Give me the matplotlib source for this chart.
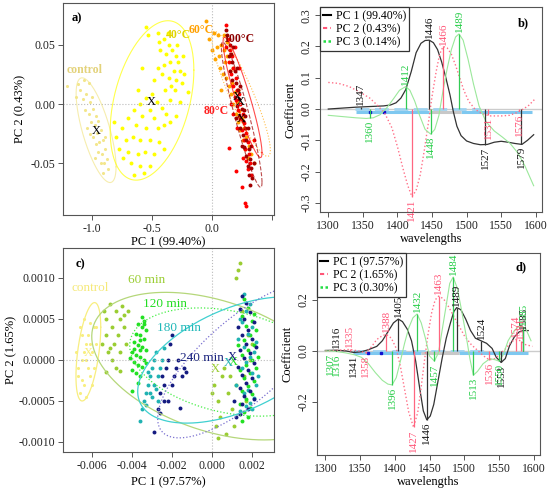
import numpy as np
import matplotlib.pyplot as plt
from matplotlib.lines import Line2D

plt.rcParams['font.family'] = ['Liberation Serif', 'DejaVu Serif']
plt.rcParams['axes.unicode_minus'] = False
plt.rcParams['font.size'] = 8

# ---------------- panel a: PCA scores, temperature ----------------
a_control = [(-1.21,0.015),(-1.12,0.017),(-1.10,0.012),(-1.07,0.020),(-1.03,0.018),(-1.05,0.008),
             (-1.08,0.004),(-1.02,0.002),(-1.00,0.006),(-1.06,-0.005),(-1.03,-0.008),(-0.99,-0.004),
             (-0.97,-0.010),(-1.01,-0.015),(-0.98,-0.018),(-0.95,-0.014),(-1.02,-0.025),(-0.99,-0.028),
             (-0.96,-0.024),(-0.93,-0.022),(-0.97,-0.034),(-0.94,-0.032),(-0.91,-0.030),(-0.95,-0.040),
             (-0.92,-0.042),(-0.89,-0.038),(-0.93,-0.050),(-0.90,-0.050),(-0.88,-0.046),(-0.91,-0.058),
             (-0.87,-0.055),(-0.98,-0.045),(-1.04,-0.020),(-0.89,-0.028),(-1.14,0.006)]
a_40 = [(-0.55,0.065),(-0.53,0.058),(-0.45,0.060),(-0.40,0.055),(-0.36,0.050),(-0.43,0.045),
        (-0.38,0.042),(-0.33,0.045),(-0.30,0.040),(-0.35,0.035),(-0.40,0.033),(-0.28,0.035),
        (-0.32,0.028),(-0.27,0.028),(-0.23,0.025),(-0.36,0.022),(-0.42,0.025),(-0.30,0.020),
        (-0.25,0.018),(-0.34,0.015),(-0.39,0.012),(-0.45,0.030),(-0.48,0.020),(-0.29,0.050),
        (-0.37,0.060),(-0.24,0.040),(-0.31,0.012),(-0.44,0.052),(-0.50,0.008),(-0.55,0.005),
        (-0.46,0.002),(-0.60,0.000),(-0.52,-0.005),(-0.42,-0.003),(-0.38,-0.008),(-0.48,-0.012),
        (-0.58,-0.010),(-0.65,-0.005),(-0.70,-0.012),(-0.63,-0.018),(-0.55,-0.020),(-0.45,-0.020),
        (-0.40,-0.018),(-0.35,-0.015),(-0.30,-0.010),(-0.75,-0.020),(-0.72,-0.030),(-0.66,-0.028),
        (-0.60,-0.030),(-0.52,-0.030),(-0.44,-0.032),(-0.78,-0.038),(-0.70,-0.040),(-0.62,-0.042),
        (-0.56,-0.040),(-0.48,-0.042),(-0.40,-0.038),(-0.68,-0.050),(-0.60,-0.052),(-0.52,-0.052),
        (-0.65,-0.060),(-0.57,-0.058),(-0.74,-0.045),(-0.80,-0.028),(-0.82,-0.015),(-0.20,0.010),
        (-0.35,0.003),(-0.58,0.030),(-0.62,0.012),(-0.27,0.002)]
a_60 = [(-0.05,0.070),(-0.02,0.055),(0.02,0.060),(0.05,0.058),(0.00,0.045),(0.04,0.048),
        (0.08,0.050),(0.03,0.038),(0.06,0.040),(0.10,0.045),(0.07,0.030),(0.11,0.035),
        (0.13,0.040),(0.09,0.025),(0.12,0.022),(0.15,0.028),(0.14,0.015),(0.17,0.018),
        (0.16,0.008),(0.19,0.010),(0.18,0.000),(0.21,0.002),(0.20,-0.008),(0.23,-0.006),
        (0.22,-0.015),(0.25,-0.012),(0.24,-0.022),(0.27,-0.020),(0.26,-0.030),(0.29,-0.028),
        (0.28,-0.038),(0.31,-0.035),(0.30,-0.045),(0.33,-0.042),(0.13,0.052),(0.10,0.058),
        (0.18,0.030),(0.22,0.012),(0.35,-0.050),(0.08,0.012)]
a_80 = [(0.12,0.066),(0.14,0.055),(0.12,0.048),(0.15,0.045),(0.17,0.040),(0.14,0.035),
        (0.18,0.030),(0.16,0.025),(0.20,0.022),(0.18,0.015),(0.21,0.012),(0.23,0.008),
        (0.20,0.003),(0.24,0.000),(0.22,-0.005),(0.26,-0.008),(0.24,-0.013),(0.27,-0.016),
        (0.25,-0.022),(0.29,-0.024),(0.27,-0.030),(0.30,-0.032),(0.28,-0.038),(0.31,-0.042),
        (0.29,-0.048),(0.32,-0.050),(0.30,-0.055),(0.26,-0.045),(0.21,-0.020),(0.18,-0.008),
        (0.14,-0.037),(0.20,-0.056),(0.25,-0.070),(0.28,-0.083),(0.29,-0.086),(0.33,-0.060),
        (0.19,0.048),(0.35,-0.030),(0.16,0.000),(0.23,0.030)]
a_100 = [(0.13,0.058),(0.15,0.050),(0.16,0.042),(0.14,0.040),(0.17,0.035),(0.19,0.028),
         (0.17,0.020),(0.20,0.018),(0.22,0.012),(0.19,0.006),(0.23,0.004),(0.21,-0.002),
         (0.25,-0.004),(0.23,-0.010),(0.26,-0.014),(0.24,-0.020),(0.28,-0.020),(0.26,-0.026),
         (0.29,-0.030),(0.27,-0.036),(0.31,-0.038),(0.29,-0.044),(0.32,-0.046),(0.30,-0.052),
         (0.33,-0.054),(0.31,-0.060),(0.34,-0.062),(0.32,-0.068),(0.35,-0.050),(0.18,0.048),
         (0.21,0.030),(0.24,0.015),(0.27,-0.005),(0.30,-0.020),(0.33,-0.035),(0.15,0.028),
         (0.20,-0.012),(0.25,-0.035),(0.12,0.062),(0.28,-0.010)]
a_colors = ['#f3e68c', '#ffff00', '#ffa500', '#ff0000', '#a00000']
a_names = ['control', '40\u00b0C', '60\u00b0C', '80\u00b0C', '100\u00b0C']
# ellipse: centre x, centre y, half range x, half range y, correlation
a_ellipses = [(-0.968,-0.022,0.167,0.044,-0.70), (-0.50,0.003,0.35,0.067,0.38),
              (0.245,0.0085,0.245,0.0525,-0.90), (0.257,0.0055,0.163,0.0505,-0.92),
              (0.25,-0.009,0.17,0.061,-0.93)]
a_centres = [(-0.97,-0.023), (-0.51,0.002), (0.21,0.006), (0.25,-0.013), (0.24,0.002)]

# ---------------- panel c: PCA scores, time ----------------
c_control = [(-0.0066,0.0004),(-0.0064,0.0005),(-0.0061,0.00045),(-0.0059,0.0004),(-0.0063,0.0002),
             (-0.0060,0.0001),(-0.0065,0.0000),(-0.0062,-0.0001),(-0.0058,0.0002),(-0.0067,-0.0002),
             (-0.0064,-0.0003),(-0.0061,-0.0002),(-0.0066,-0.0004),(-0.0063,-0.00045),(-0.0060,-0.0003),
             (-0.0065,0.0003),(-0.0062,0.0003),(-0.0068,0.0001),(-0.0059,-0.0001),(-0.0063,0.0000),
             (-0.0061,0.0002),(-0.0067,-0.0001),(-0.0064,0.0001),(-0.0058,0.0004),(-0.0065,-0.00025)]
c_60 = [(-0.0054,0.0006),(-0.0051,0.00068),(-0.0048,0.0006),(-0.0045,0.00066),(-0.0046,0.0005),
        (-0.0050,0.0004),(-0.0053,0.0003),(-0.0047,0.0003),(-0.0044,0.0004),(-0.0049,0.0002),
        (-0.0052,0.0001),(-0.0046,0.0001),(-0.0043,0.0002),(-0.0050,0.0000),(-0.0048,-0.0001),
        (-0.0055,0.0002),(-0.0046,-0.00013),(-0.0042,0.0006),(-0.0053,-0.00015),(-0.0053,0.0005),
        (-0.0051,0.00015),(-0.0044,0.00055),(0.0001,-0.0003),(0.0003,-0.0005),(0.0005,-0.0002),
        (0.0008,-0.0004),(0.0004,-0.0007),(0.0010,-0.0006),(0.0002,-0.0008),(0.0007,-0.0009),
        (0.0012,-0.0003),(0.0006,-0.0001),(0.0000,-0.0004),(0.0011,-0.0008),(0.0013,0.0011),
        (0.0014,0.00118),(0.0012,0.0010),(0.0015,0.0006),(0.0018,0.0003),(0.0016,-0.0002),
        (0.0019,0.0000),(0.0017,-0.0005),(0.0020,0.0002),(0.0009,-0.0002),(0.0003,-0.00095)]
c_120 = [(-0.0035,0.00052),(-0.0034,0.00048),(-0.0037,0.00044),(-0.0035,0.00040),(-0.0033,0.00036),
         (-0.0038,0.00032),(-0.0036,0.00030),(-0.0034,0.00026),(-0.0039,0.00022),(-0.0037,0.00018),
         (-0.0035,0.00016),(-0.0033,0.00012),(-0.0040,0.00010),(-0.0038,0.00006),(-0.0036,0.00004),
         (-0.0034,0.00000),(-0.0039,-0.00002),(-0.0037,-0.00006),(-0.0035,-0.00008),(-0.0040,-0.00012),
         (-0.0038,-0.00016),(-0.0036,-0.00020),(-0.0041,0.00002),(-0.0039,0.00014),(-0.0036,0.00012),
         (-0.0033,-0.00004),(-0.0040,-0.00038),(-0.0037,-0.00028),(-0.0034,0.00044),(-0.0036,0.00024),
         (0.0016,0.00074),(0.0018,0.00064),(0.0015,0.00054),(0.0020,0.00048),(0.0017,0.00042),
         (0.0022,0.00036),(0.0019,0.00030),(0.0016,0.00024),(0.0021,0.00018),(0.0018,0.00012),
         (0.0015,0.00006),(0.0020,0.00000),(0.0017,-0.00006),(0.0022,-0.00010),(0.0019,-0.00016),
         (0.0016,-0.00022),(0.0021,-0.00026),(0.0018,-0.00032),(0.0015,-0.00038),(0.0020,-0.00042),
         (0.0017,-0.00048),(0.0014,-0.00054),(0.0019,-0.00058),(0.0016,-0.00064),(0.0015,-0.00074),
         (0.0023,0.00004),(0.0013,0.00018),(0.0014,-0.00012),(0.0021,0.00056),(0.0018,-0.00070)]
c_180 = [(-0.0036,-0.00075),(-0.0035,-0.0006),(-0.0034,-0.0005),(-0.0033,-0.0004),(-0.0032,-0.0003),
         (-0.0031,-0.0002),(-0.0030,-0.0001),(-0.0029,0.0000),(-0.0028,0.0001),(-0.0033,-0.00055),
         (-0.0031,-0.0004),(-0.0029,-0.0003),(-0.0027,-0.0002),(-0.0026,-0.0001),(-0.0030,-0.00045),
         (-0.0028,-0.00035),(-0.0025,0.0000),(-0.0024,0.00015),(-0.0032,-0.00015),(-0.0027,-0.0005),
         (0.0016,0.00080),(0.0019,0.00068),(0.0017,0.00060),(0.0015,0.00046),(0.0020,0.00040),
         (0.0018,0.00032),(0.0016,0.00016),(0.0021,0.00010),(0.0019,0.00004),(0.0017,-0.00002),
         (0.0015,-0.00010),(0.0020,-0.00016),(0.0022,-0.00030),(0.0018,-0.00036),(0.0016,-0.00040),
         (0.0021,-0.00046),(0.0019,-0.00052),(0.0017,-0.00056),(0.0014,-0.00062),(0.0022,0.00022),
         (0.0013,0.00026),(0.0020,-0.00060),(0.0023,-0.00020),(0.0014,0.00050),(0.0012,-0.00030)]
c_240 = [(-0.0029,-0.00088),(-0.0027,-0.0006),(-0.0026,-0.0004),(-0.0025,-0.0002),(-0.0024,-0.0003),
         (-0.0023,-0.0001),(-0.0022,0.0000),(-0.0021,0.0002),(-0.0020,0.0003),(-0.0022,-0.0005),
         (-0.0019,-0.0002),(-0.0018,-0.0001),(-0.0016,-0.00058),(-0.0015,-0.0002),(-0.0014,-0.0001),
         (-0.0017,0.0000),(-0.0024,-0.0005),(-0.0026,-0.00065),(-0.0020,-0.0003),(-0.0013,-0.00015),
         (0.0015,0.00078),(0.0017,0.00070),(0.0014,0.00062),(0.0019,0.00058),(0.0016,0.00050),
         (0.0021,0.00046),(0.0013,0.00040),(0.0018,0.00036),(0.0015,0.00030),(0.0020,0.00026),
         (0.0017,0.00020),(0.0022,0.00016),(0.0014,0.00012),(0.0019,0.00008),(0.0016,0.00002),
         (0.0021,-0.00004),(0.0013,-0.00008),(0.0018,-0.00012),(0.0015,-0.00018),(0.0020,-0.00022),
         (0.0017,-0.00028),(0.0014,-0.00034),(0.0019,-0.00038),(0.0016,-0.00044),(0.0021,-0.00048),
         (0.0015,-0.00054),(0.0018,-0.00060),(0.0014,-0.00066),(0.0012,-0.00070),(0.0011,-0.00050)]
c_colors = ['#f8ee80', '#9acd32', '#22e022', '#20b2b2', '#141a80']
c_names = ['control', '60 min', '120 min', '180 min', '240 min']
c_ellipses = [(-0.00617,0.0001,0.00062,0.0006,0.5), (0.00016,-0.000075,0.00616,0.0009,-0.4),
              (0.0009,-0.000025,0.005,0.00066,-0.3), (0.0012,0.0,0.0049,0.00077,0.5),
              (0.0016,0.0,0.0043,0.00095,0.75)]
c_centres = [(-0.00617,0.00008), (0.00016,-0.00011), (0.0011,-0.00002), (0.00083,-0.00004), (0.00105,0.00004)]

# ---------------- panel b: loadings, temperature ----------------
b_pc1_wl = [1300,1320,1340,1360,1380,1390,1398,1405,1412,1420,1427,1434,1440,1446,1452,1458,1464,
            1470,1476,1481,1486,1492,1500,1510,1520,1530,1540,1550,1560,1570,1580,1588,1597]
b_pc1 = [0.000,0.003,0.006,0.008,0.010,0.013,0.020,0.035,0.062,0.120,0.180,0.210,0.219,0.220,0.212,
         0.190,0.150,0.100,0.045,-0.010,-0.055,-0.085,-0.102,-0.110,-0.114,-0.113,-0.106,-0.103,
         -0.106,-0.110,-0.113,-0.100,-0.082]
b_pc2_wl = [1300,1315,1330,1345,1360,1372,1382,1392,1400,1408,1415,1421,1427,1433,1439,1445,1450,
            1456,1461,1466,1472,1478,1484,1490,1496,1503,1512,1522,1535,1550,1562,1572,1582,1590,1598]
b_pc2 = [0.085,0.082,0.072,0.055,0.035,0.010,-0.015,-0.060,-0.120,-0.190,-0.245,-0.280,-0.260,
         -0.210,-0.130,-0.040,0.040,0.120,0.175,0.200,0.195,0.175,0.140,0.100,0.060,0.025,0.000,
         -0.015,-0.022,-0.022,-0.020,-0.012,0.000,0.012,0.030]
b_pc3_wl = [1300,1320,1340,1355,1365,1375,1385,1395,1403,1412,1418,1425,1432,1440,1448,1454,1460,
            1466,1472,1478,1484,1489,1495,1502,1510,1518,1528,1540,1552,1563,1574,1584,1592,1597]
b_pc3 = [-0.020,-0.024,-0.028,-0.030,-0.028,-0.018,0.005,0.035,0.060,0.072,0.060,0.025,-0.020,
         -0.065,-0.080,-0.065,-0.020,0.060,0.130,0.190,0.230,0.240,0.220,0.160,0.080,0.010,-0.040,
         -0.070,-0.090,-0.110,-0.140,-0.180,-0.220,-0.245]
b_peaks = [[1347,1446,1527,1579], [1421,1466,1531,1576], [1360,1412,1448,1489]]
b_legend = ['PC 1 (99.40%)', 'PC 2 (0.43%)', 'PC 3 (0.14%)']
b_sig_solid = [(1340,1446),(1492,1595)]
b_sig_grey = [(1446,1492)]
b_sig_dash = [(1338,1520)]
b_sig_marks = [1360,1381]

# ---------------- panel d: loadings, time ----------------
d_pc1_wl = [1300,1316,1330,1341,1352,1362,1374,1382,1390,1398,1405,1411,1418,1424,1430,1436,1441,
            1446,1451,1456,1462,1468,1474,1480,1485,1489,1495,1502,1509,1516,1524,1532,1540,1546,
            1553,1559,1565,1572,1579,1585,1592]
d_pc1 = [0.002,0.003,0.000,-0.006,-0.003,0.005,0.018,0.040,0.075,0.110,0.125,0.115,0.085,0.040,
         -0.040,-0.150,-0.235,-0.270,-0.255,-0.210,-0.120,-0.030,0.050,0.110,0.155,0.170,0.162,
         0.125,0.080,0.050,0.040,0.030,0.010,-0.025,-0.045,-0.030,0.020,0.055,0.075,0.080,0.080]
d_pc2_wl = [1300,1315,1335,1348,1358,1366,1374,1382,1388,1395,1402,1408,1414,1420,1427,1433,1438,
            1443,1448,1453,1458,1463,1470,1477,1484,1492,1500,1510,1520,1528,1536,1544,1552,1560,
            1567,1574,1581,1588,1598]
d_pc2 = [0.000,0.002,0.006,0.000,-0.008,0.015,0.045,0.060,0.065,0.050,0.010,-0.060,-0.150,-0.240,
         -0.300,-0.240,-0.140,-0.030,0.070,0.150,0.200,0.215,0.205,0.175,0.140,0.100,0.060,0.025,
         0.000,-0.020,-0.035,-0.030,-0.010,0.010,0.035,0.045,0.040,0.025,0.018]
d_pc3_wl = [1300,1307,1316,1330,1342,1352,1362,1372,1382,1390,1396,1402,1408,1414,1420,1426,1432,
            1438,1444,1450,1457,1463,1468,1474,1479,1484,1490,1496,1502,1508,1513,1519,1527,1537,
            1545,1550,1556,1563,1572,1580,1588,1596]
d_pc3 = [0.000,0.000,-0.002,-0.008,-0.015,-0.025,-0.050,-0.085,-0.115,-0.130,-0.133,-0.105,-0.040,
         0.030,0.090,0.130,0.145,0.110,0.050,-0.020,-0.040,-0.005,0.080,0.180,0.265,0.290,0.245,
         0.160,0.070,-0.030,-0.095,-0.080,-0.050,-0.030,-0.035,-0.040,-0.015,0.040,0.080,0.100,
         0.090,0.040]
d_peaks = [[1316,1341,1405,1446,1489,1524,1553,1585], [1335,1358,1388,1427,1463,1536,1574,1581],
           [1307,1316,1396,1432,1457,1484,1513,1550,1585]]
d_legend = ['PC 1 (97.57%)', 'PC 2 (1.65%)', 'PC 3 (0.30%)']
d_sig_solid = [(1340,1437),(1493,1592)]
d_sig_grey = [(1437,1493)]
d_sig_dash = [(1340,1530)]
d_sig_marks = [1362,1380]

pc_line_colors = ['#333333', '#ff7088', '#9be89b']
pc_label_colors = ['#111111', '#ff5577', '#22cc44']
pc_peak_colors = ['#333333', '#ff6680', '#33cc55']


def ellipse(cx, cy, sx, sy, r):
    t = np.linspace(0, 2 * np.pi, 240)
    return cx + sx * np.cos(t), cy + sy * np.cos(t + np.arccos(r))


def style_axes(ax, rotate_y=False):
    for s in ax.spines.values():
        s.set_color('#555555')
        s.set_linewidth(0.8)
    ax.tick_params(direction='out', length=3.5, width=0.7, color='#555555', labelsize=8.5,
                   labelcolor='#222222', pad=2)
    if rotate_y:
        for lab in ax.get_yticklabels():
            lab.set_rotation(90)
            lab.set_va('center')


fig = plt.figure(figsize=(5.5, 4.9), dpi=100)

# ---------- a ----------
ax = fig.add_axes([0.1145, 0.5612, 0.3836, 0.4327])
ax.axhline(0, color='#bbbbbb', ls=':', lw=0.8)
ax.axvline(0, color='#bbbbbb', ls=':', lw=0.8)
a_styles = ['-', '-', ':', '-', '--']
for pts, col, ls, el in zip([a_control, a_40, a_60, a_80, a_100], a_colors, a_styles, a_ellipses):
    p = np.array(pts)
    ax.scatter(p[:, 0], p[:, 1], s=8 if col != a_colors[0] else 5, color=col, lw=0)
    ex, ey = ellipse(*el)
    ax.plot(ex, ey, color=col, ls=ls, lw=0.8, alpha=0.7)
for cx, cy in a_centres:
    ax.text(cx, cy, 'X', ha='center', va='center', fontsize=9, color='black')
a_text_pos = [(-1.215, 0.0285), (-0.383, 0.058), (-0.19, 0.062), (-0.065, -0.006), (0.095, 0.055)]
a_text_cols = ['#e3d27a', '#e0d400', '#ffa000', '#ff2020', '#8b0000']
for name, (tx, ty), col in zip(a_names, a_text_pos, a_text_cols):
    ax.text(tx, ty, name, color=col, fontsize=8.5, ha='left', va='center', fontweight='bold')
ax.set_xlim(-1.245, 0.52)
ax.set_ylim(-0.0933, 0.0849)
ax.set_xticks([-1.0, -0.5, 0.0, 0.5])
ax.set_xticklabels(['-1.0', '-0.5', '0.0', ''])
ax.set_yticks([-0.05, 0.0, 0.05])
ax.set_yticklabels(['-0.05', '0.00', '0.05'])
ax.set_xlabel('PC 1 (99.40%)', fontsize=9, labelpad=1)
ax.set_ylabel('PC 2 (0.43%)', fontsize=9, labelpad=3)
ax.text(0.04, 0.93, 'a)', transform=ax.transAxes, fontsize=9, fontweight='bold', va='center')
style_axes(ax)

# ---------- c ----------
ax = fig.add_axes([0.1145, 0.0776, 0.3836, 0.4163])
ax.axhline(0, color='#bbbbbb', ls=':', lw=0.8)
ax.axvline(0, color='#bbbbbb', ls=':', lw=0.8)
c_styles = ['-', '-', ':', '-', ':']
c_ell_cols = ['#f8ee80', '#b5d77a', '#44ee44', '#40d0d0', '#7a70d0']
for pts, col, ls, el, ecol in zip([c_control, c_60, c_120, c_180, c_240], c_colors, c_styles,
                                  c_ellipses, c_ell_cols):
    p = np.array(pts)
    ax.scatter(p[:, 0], p[:, 1], s=8 if col != c_colors[0] else 5, color=col, lw=0)
    ex, ey = ellipse(*el)
    ax.plot(ex, ey, color=ecol, ls=ls, lw=0.9)
for (cx, cy), col in zip(c_centres, c_colors):
    ax.text(cx, cy, 'X', ha='center', va='center', fontsize=9, color=col)
c_text_pos = [(-0.0070, 0.00088), (-0.00417, 0.00098), (-0.00342, 0.00068), (-0.00275, 0.00039),
              (-0.00158, 0.00003)]
c_text_cols = ['#f5e97a', '#9acd32', '#22dd22', '#20b8b8', '#1a237e']
for name, (tx, ty), col in zip(c_names, c_text_pos, c_text_cols):
    ax.text(tx, ty, name, color=col, fontsize=9.5, ha='left', va='center')
ax.set_xlim(-0.00744, 0.00312)
ax.set_ylim(-0.001122, 0.001366)
ax.set_xticks([-0.006, -0.004, -0.002, 0.0, 0.002])
ax.set_xticklabels(['-0.006', '-0.004', '-0.002', '0.000', '0.002'])
ax.set_yticks([-0.001, -0.0005, 0.0, 0.0005, 0.001])
ax.set_yticklabels(['-0.0010', '-0.0005', '0.0000', '0.0005', '0.0010'])
ax.set_xlabel('PC 1 (97.57%)', fontsize=9, labelpad=3)
ax.set_ylabel('PC 2 (1.65%)', fontsize=9, labelpad=1)
ax.text(0.06, 0.92, 'c)', transform=ax.transAxes, fontsize=9, fontweight='bold', va='center')
style_axes(ax)


# ---------- b and d ----------
def loadings(ax, curves, peaks, legend, sig_solid, sig_grey, sig_dash, sig_marks, off):
    ax.axhline(0, color='#cccccc', lw=1.0)
    for a0, a1 in sig_dash:
        ax.plot([a0, a1], [-0.001, -0.001], color='#9fd3f0', lw=2, dashes=(5, 2))
    for a0, a1 in sig_solid:
        ax.plot([a0, a1], [-0.009, -0.009], color='#7ec8f0', lw=2.2, solid_capstyle='butt')
    for a0, a1 in sig_grey:
        ax.plot([a0, a1], [-0.009, -0.009], color='#c8c8c8', lw=2.2, solid_capstyle='butt')
    ax.plot(sig_marks, [-0.009] * len(sig_marks), ls='none', marker='s', ms=1.8, color='#1010d0')
    styles = ['-', ':', '-']
    widths = [0.9, 1.0, 0.8]
    for (wl, val), col, ls, lw in zip(curves, pc_line_colors, styles, widths):
        ax.plot(wl, val, color=col, ls=ls, lw=lw)
    for (wl, val), pk, lcol, pcol in zip(curves, peaks, pc_label_colors, pc_peak_colors):
        tips = np.interp(pk, wl, val)
        ax.vlines(pk, 0, tips, color=pcol, lw=0.9)
        for w, v in zip(pk, tips):
            if v > 0:
                ax.text(w, v + off, str(w), rotation=90, ha='center', va='bottom',
                        color=lcol, fontsize=8)
            else:
                ax.text(w, v - off, str(w), rotation=90, ha='center', va='top',
                        color=lcol, fontsize=8)
    handles = [Line2D([], [], color='black', lw=1.5),
               Line2D([], [], color='#ff5577', lw=1.5, dashes=(2, 1.5)),
               Line2D([], [], color='#22dd44', lw=1.8, dashes=(1, 1))]
    leg = ax.legend(handles, legend, loc='upper left', borderaxespad=0, fontsize=8.5,
                    handlelength=0.7, handletextpad=0.4, borderpad=0.25, labelspacing=0.1,
                    fancybox=False, framealpha=1, edgecolor='#333333')
    leg.get_frame().set_linewidth(0.9)
    ax.set_xlim(1288, 1609)
    ax.set_xticks(range(1300, 1601, 50))
    ax.set_xlabel('wavelengths', fontsize=9, labelpad=1)
    ax.set_ylabel('Coefficient', fontsize=9, labelpad=3)


ax = fig.add_axes([0.5818, 0.5673, 0.4036, 0.4184])
loadings(ax, [(b_pc1_wl, b_pc1), (b_pc2_wl, b_pc2), (b_pc3_wl, b_pc3)], b_peaks, b_legend,
         b_sig_solid, b_sig_grey, b_sig_dash, b_sig_marks, 0.006)
ax.set_ylim(-0.329, 0.326)
ax.set_yticks([-0.3, -0.2, -0.1, 0.0, 0.1, 0.2, 0.3])
ax.text(0.94, 0.92, 'b)', transform=ax.transAxes, fontsize=9, fontweight='bold', va='center',
        ha='right')
style_axes(ax, rotate_y=True)

ax = fig.add_axes([0.5764, 0.0714, 0.4055, 0.4122])
loadings(ax, [(d_pc1_wl, d_pc1), (d_pc2_wl, d_pc2), (d_pc3_wl, d_pc3)], d_peaks, d_legend,
         d_sig_solid, d_sig_grey, d_sig_dash, d_sig_marks, 0.008)
ax.set_ylim(-0.408, 0.384)
ax.set_yticks([-0.2, 0.0, 0.2])
ax.text(0.94, 0.93, 'd)', transform=ax.transAxes, fontsize=9, fontweight='bold', va='center',
        ha='right')
style_axes(ax, rotate_y=True)

fig.savefig('out.png', dpi=100)
